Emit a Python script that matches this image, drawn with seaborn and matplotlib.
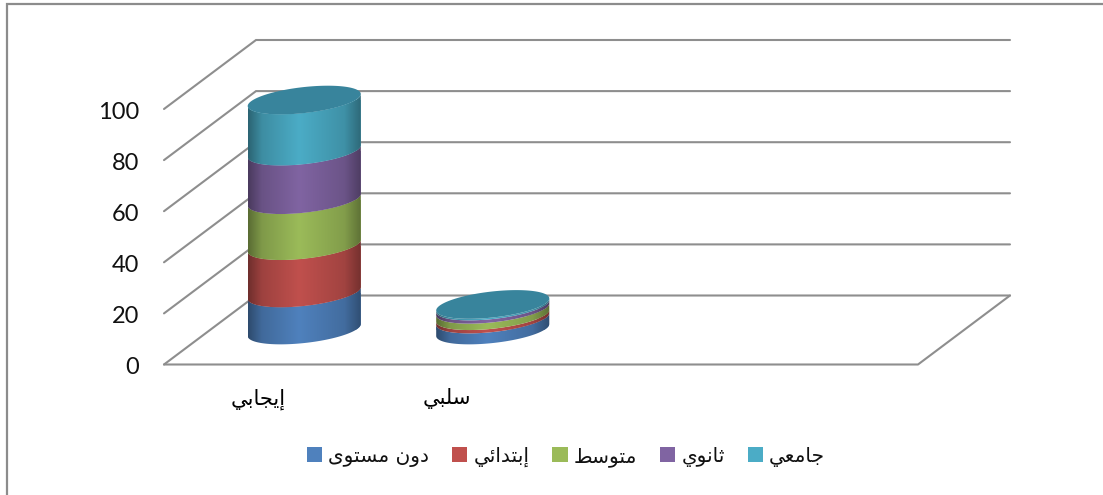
import numpy as np
import pandas as pd
import matplotlib
matplotlib.use("Agg")
import matplotlib.pyplot as plt
from matplotlib.lines import Line2D
from matplotlib.patches import Polygon, Rectangle
from matplotlib.colors import to_rgb
from matplotlib.transforms import ScaledTranslation
import seaborn as sns

categories = ["إيجابي", "سلبي", "", " "]
series_names = ["دون مستوى", "إبتدائي", "متوسط", "ثانوي", "جامعي"]
below_level = [14.5, 4.3]
primary = [18.5, 1.3]
middle = [18.0, 2.5]
secondary = [19.0, 1.3]
university = [20.0, 0.6]
series_values = [below_level, primary, middle, secondary, university]
series_colors = ["#4F81BD", "#C0504D", "#9BBB59", "#8064A2", "#4BACC6"]
top_color = "#38849C"
y_ticks = [0, 20, 40, 60, 80, 100]
GRID = "#8E8E8E"

# --- minimal Arabic shaping (matplotlib has no contextual shaper) ---
FORMS = {
    "ا": (0xFE8D, 0xFE8E), "إ": (0xFE87, 0xFE88), "د": (0xFEA9, 0xFEAA), "و": (0xFEED, 0xFEEE),
    "ى": (0xFEEF, 0xFEF0),
    "ئ": (0xFE89, 0xFE8A, 0xFE8B, 0xFE8C), "ب": (0xFE8F, 0xFE90, 0xFE91, 0xFE92),
    "ت": (0xFE95, 0xFE96, 0xFE97, 0xFE98), "ث": (0xFE99, 0xFE9A, 0xFE9B, 0xFE9C),
    "ج": (0xFE9D, 0xFE9E, 0xFE9F, 0xFEA0), "س": (0xFEB1, 0xFEB2, 0xFEB3, 0xFEB4),
    "ط": (0xFEC1, 0xFEC2, 0xFEC3, 0xFEC4), "ع": (0xFEC9, 0xFECA, 0xFECB, 0xFECC),
    "ل": (0xFEDD, 0xFEDE, 0xFEDF, 0xFEE0), "م": (0xFEE1, 0xFEE2, 0xFEE3, 0xFEE4),
    "ن": (0xFEE5, 0xFEE6, 0xFEE7, 0xFEE8), "ي": (0xFEF1, 0xFEF2, 0xFEF3, 0xFEF4),
}

def shape(text):
    out = []
    for i, ch in enumerate(text):
        f = FORMS.get(ch)
        if f is None:
            out.append(ch)
            continue
        prev = text[i - 1] if i else " "
        nxt = text[i + 1] if i + 1 < len(text) else " "
        join_prev = prev in FORMS and len(FORMS[prev]) == 4
        join_next = nxt in FORMS and len(f) == 4
        if join_prev and join_next:
            out.append(chr(f[3]))
        elif join_prev:
            out.append(chr(f[1]))
        elif join_next:
            out.append(chr(f[2]))
        else:
            out.append(chr(f[0]))
    return "".join(reversed(out))

sns.set_theme(style="white")
plt.rcParams["font.family"] = ["Lato", "DejaVu Sans"]

W, H = 1103, 495
fig = plt.figure(figsize=(W / 100, H / 100), dpi=100, facecolor="white")

def rect(x0, x1, ytop, ybot):
    return [x0 / W, 1 - ybot / H, (x1 - x0) / W, (ybot - ytop) / H]

# front plane carries the axis; the cylinder plane sits half way back
ax = fig.add_axes(rect(164, 918, 109, 364.5))
LOW = -12
ax3 = fig.add_axes(rect(210, 964, 74.5, 330 - LOW * 2.555))
ax3.patch.set_alpha(0)
ax.set_xlim(-0.5, 3.5)
ax.set_ylim(0, 100)
for a in (ax, ax3):
    for s in a.spines.values():
        s.set_visible(False)

# box walls
dx, dy = 92 / 188.5, 69 / 2.555
for v in y_ticks:
    ax.plot([-0.5, -0.5 + dx, 3.5 + dx], [v, v + dy, v + dy], color=GRID, lw=1.5,
            clip_on=False, solid_joinstyle="miter")
ax.plot([-0.5, 3.5, 3.5 + dx], [0, 0, dy], color=GRID, lw=1.5, clip_on=False)

ax.set_xticks([0, 1], [shape(categories[0]), shape(categories[1])],
              fontsize=15.2, family="DejaVu Sans", color="black")
ax.set_yticks(y_ticks, [str(v) for v in y_ticks], fontsize=17, color="#111111")
ax.tick_params(axis="both", length=0)
ax.tick_params(axis="x", pad=17)
ax.tick_params(axis="y", pad=18)
for lab in ax.get_yticklabels():
    lab.set_transform(lab.get_transform() + ScaledTranslation(0, -1.5 / 100, fig.dpi_scale_trans))

# stacked bars
bottoms = np.zeros(2)
bar_sets = []
for vals, col in zip(series_values, series_colors):
    df = pd.DataFrame({"cat": categories[:2], "val": vals})
    before = len(ax3.patches)
    sns.barplot(data=df, x="cat", y="val", order=categories, color=col, width=0.6,
                saturation=1, bottom=bottoms.copy(), ax=ax3, linewidth=0, errorbar=None)
    bar_sets.append(list(ax3.patches)[before:])
    bottoms = bottoms + np.array(vals)
ax3.set_xlim(-0.5, 3.5)
ax3.set_ylim(LOW, 100)
ax3.set_xticks([])
ax3.set_yticks([])
ax3.set_xlabel("")
ax3.set_ylabel("")

SKEW, BOW = 2.35, 5.1
t = np.linspace(0, np.pi, 80)

def ramp(col):
    u = np.linspace(0, 1, 120)
    f = np.interp(u, [0, 0.12, 0.45, 0.85, 1], [0.58, 0.82, 1.0, 0.84, 0.6])
    return np.clip(np.outer(f, to_rgb(col)), 0, 1)[None, :, :]

for bars, col in zip(bar_sets, series_colors):
    for b in bars:
        if not np.isfinite(b.get_height()) or b.get_height() <= 0:
            continue
        xc, a = b.get_x() + b.get_width() / 2, b.get_width() / 2
        y0, y1 = b.get_y(), b.get_y() + b.get_height()
        xs = xc + a * np.cos(t)
        low = y0 + SKEW * np.cos(t) - BOW * np.sin(t)
        up = y1 + SKEW * np.cos(t) - BOW * np.sin(t)
        band = Polygon(np.r_[np.c_[xs, low], np.c_[xs[::-1], up[::-1]]], closed=True,
                       transform=ax3.transData, fc="none", ec="none")
        ax3.add_patch(band)
        b.set_clip_path(band)
        im = ax3.imshow(ramp(col), extent=[xc - a, xc + a, y0 - 10, y1 + 10],
                        aspect="auto", zorder=3, interpolation="bilinear")
        im.set_clip_path(band)

for xc, total in enumerate(bottoms):
    a = 0.3
    th = np.linspace(0, 2 * np.pi, 160)
    ax3.add_patch(Polygon(np.c_[xc + a * np.cos(th),
                                total + SKEW * np.cos(th) - BOW * np.sin(th)],
                          closed=True, fc=top_color, ec="none", zorder=4, clip_on=False))
ax3.set_xlim(-0.5, 3.5)
ax3.set_ylim(LOW, 100)

# legend
handles = [Rectangle((0, 0), 1, 1, fc=c, ec="none") for c in series_colors]
fig.legend(handles, [shape(s) for s in series_names], ncol=5, frameon=False,
           loc="center", bbox_to_anchor=(566 / W, 1 - 457 / H),
           prop={"family": "DejaVu Sans", "size": 14.5}, handlelength=0.75, handleheight=0.75,
           handletextpad=0.3, columnspacing=1.15, borderpad=0, labelcolor="#111111")

# outer frame (left and top edges)
fig.add_artist(Line2D([6.5 / W, 6.5 / W, 1], [0, 1 - 3.5 / H, 1 - 3.5 / H],
                      transform=fig.transFigure, color="#8C8C8C", lw=1.6,
                      solid_joinstyle="miter"))

fig.savefig("out.png", dpi=100, facecolor="white")
